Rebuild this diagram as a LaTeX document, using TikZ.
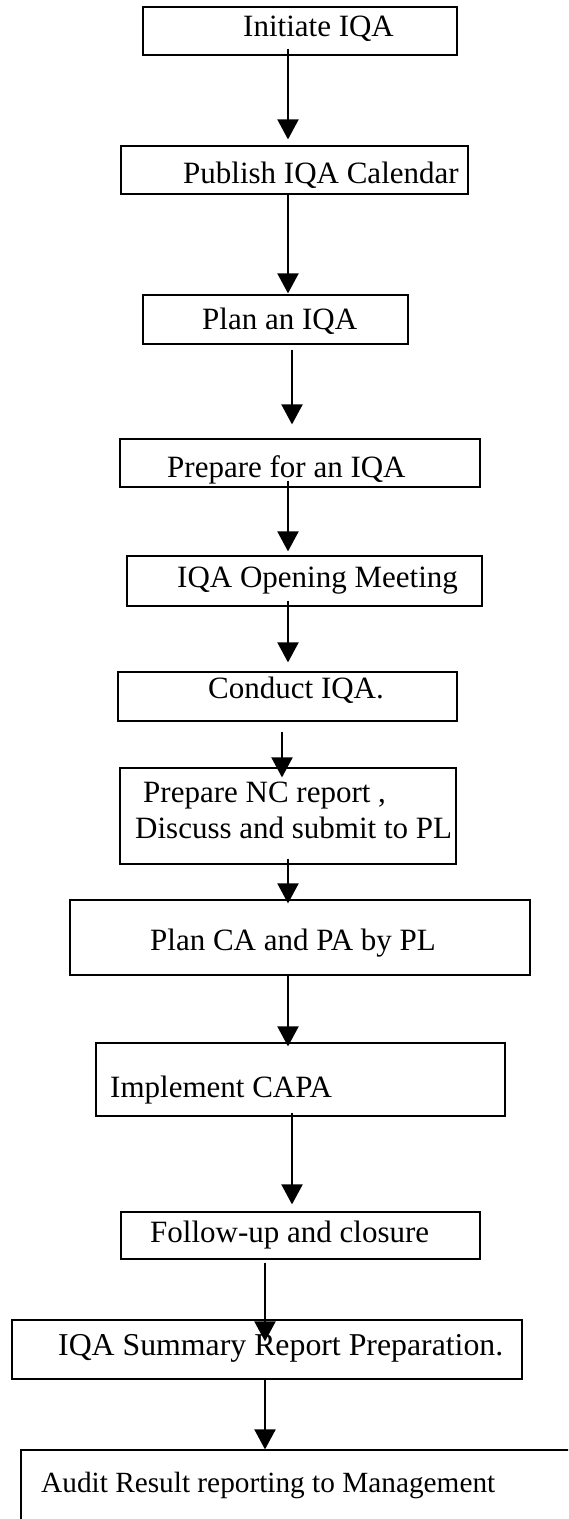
\documentclass[tikz,border=0pt]{standalone}
\usepackage{fontspec}
\setmainfont{Liberation Serif}
\usetikzlibrary{arrows.meta}

\begin{document}
\begin{tikzpicture}
  [x=1pt,y=-1pt,
   box/.style={draw=black,line width=1.2pt,rectangle,inner sep=0pt},
   txt/.style={anchor=base west,inner sep=0pt,font=\fontsize{31}{36}\selectfont},
   flow/.style={line width=2pt,-{Triangle[length=20pt,width=21pt]}}]
  \useasboundingbox (0,0) rectangle (568,1519);
  \clip (0,0) rectangle (568,1519);

  % Cajas del proceso
  \node[box,minimum width=314,minimum height=48] (n1)  at (300,31)     {};
  \node[box,minimum width=347,minimum height=48] (n2)  at (294.5,170)  {};
  \node[box,minimum width=265,minimum height=49] (n3)  at (275.5,319.5) {};
  \node[box,minimum width=360,minimum height=48] (n4)  at (300,463)    {};
  \node[box,minimum width=355,minimum height=50] (n5)  at (304.5,581)  {};
  \node[box,minimum width=339,minimum height=49] (n6)  at (287.5,696.5) {};
  \node[box,minimum width=336,minimum height=96] (n7)  at (288,816)    {};
  \node[box,minimum width=460,minimum height=75] (n8)  at (300,937.5)  {};
  \node[box,minimum width=409,minimum height=73] (n9)  at (300.5,1079.5) {};
  \node[box,minimum width=359,minimum height=47] (n10) at (300.5,1235.5) {};
  \node[box,minimum width=510,minimum height=59] (n11) at (267,1349.5) {};
  \node[box,minimum width=599,minimum height=120] (n12) at (320.5,1510) {};

  % Textos
  \node[txt] (t1)  at (243,36)   {Initiate IQA};
  \node[txt] (t2)  at (183,183)  {Publish IQA Calendar};
  \node[txt] (t3)  at (202,329)  {Plan an IQA};
  \node[txt] (t4)  at (167,477)  {Prepare for an IQA};
  \node[txt] (t5)  at (177,587)  {IQA Opening Meeting};
  \node[txt] (t6)  at (208,698)  {Conduct IQA.};
  \node[txt] (t7a) at (143,802)  {Prepare NC report ,};
  \node[txt] (t7b) at (135,838)  {Discuss and submit to PL};
  \node[txt] (t8)  at (150,950)  {Plan CA and PA by PL};
  \node[txt] (t9)  at (110,1097) {Implement CAPA};
  \node[txt] (t10) at (150,1242) {Follow-up and closure};
  \node[txt,font=\fontsize{31.8}{36}\selectfont] (t11) at (58,1355) {IQA Summary Report Preparation.};
  \node[txt,font=\fontsize{29.3}{36}\selectfont] (t12) at (41,1492) {Audit Result reporting to Management};

  % Flechas entre cajas
  \foreach \from/\to/\x/\s/\e in {n1/n2/288/-7/6, n2/n3/288/0/1, n3/n4/292/5/14,
      n4/n5/288/-7/4, n5/n6/288/-6/9, n6/n7/282/10/-10, n7/n8/288/-6/-4,
      n8/n9/288/-2/-4, n9/n10/292/-4/7, n10/n11/265/3/-22, n11/n12/265/0/0}
    \draw[flow,shorten <=\s pt,shorten >=\e pt] (\from.south -| \x,0) -- (\to.north -| \x,0);
\end{tikzpicture}
\end{document}
